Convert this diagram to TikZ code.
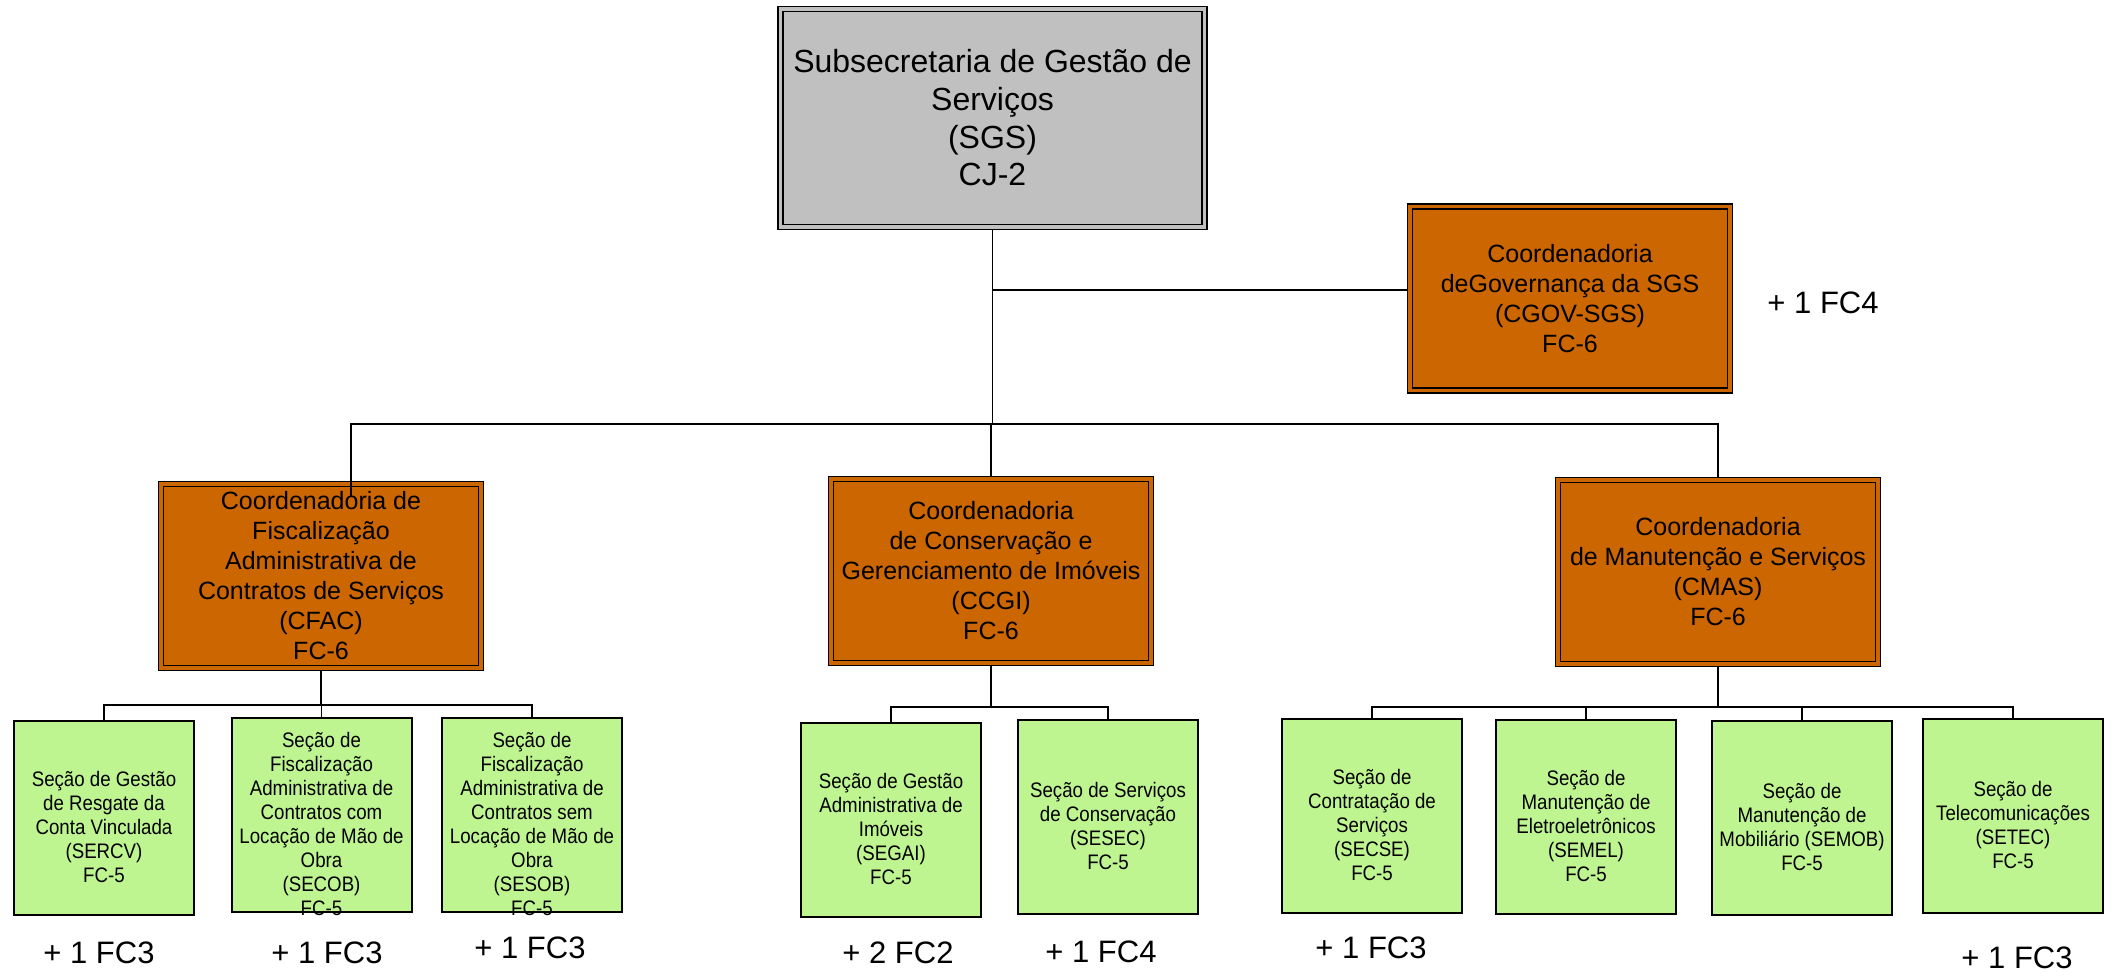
\documentclass[tikz,border=0pt]{standalone}
\usepackage{fontspec}
\setmainfont{Liberation Sans}
\newfontfamily\narrowsans[FakeStretch=0.89]{Liberation Sans}
\definecolor{boxorange}{HTML}{CC6600}
\definecolor{boxgray}{HTML}{C0C0C0}
\definecolor{boxgreen}{HTML}{BFF591}
\begin{document}
\begin{tikzpicture}[x=0.5pt,y=-0.5pt,
  topbox/.style={draw=black, line width=0.75pt, double=boxgray, double distance=1.75pt, fill=boxgray,
    minimum width=212pt, minimum height=109pt, inner sep=0pt, outer sep=1.6pt, align=center,
    font=\fontsize{16}{18.85}\selectfont},
  coordbox/.style={draw=black, line width=0.75pt, double=boxorange, double distance=1.75pt, fill=boxorange,
    minimum width=160pt, minimum height=92pt, inner sep=0pt, outer sep=1.6pt, align=center,
    font=\fontsize{12.5}{15}\selectfont},
  secbox/.style={draw=black, line width=1pt, fill=boxgreen, minimum width=90pt, minimum height=97pt,
    inner sep=0pt, outer sep=0.5pt},
  sectext/.style={align=center, inner sep=0pt, font=\narrowsans\fontsize{10.5}{12}\selectfont},
  extra/.style={inner sep=0pt, font=\fontsize{15.5}{18}\selectfont},
  conn/.style={line width=0.75pt},
  conn2/.style={line width=1pt}
]
\useasboundingbox (0,0) rectangle (2112,975);

% top
\node[topbox] (sgs) at (992.5,118) {Subsecretaria de Gestão de\\Serviços\\(SGS)\\CJ-2};
\node[coordbox] (cgov) at (1570,298.5) {Coordenadoria\\deGovernança da SGS\\(CGOV-SGS)\\FC-6};
\node[extra] (cgovx) at (1823,303) {+ 1 FC4};

% coordinators
\node[coordbox] (cfac) at (321,576) {Coordenadoria de\\Fiscalização\\Administrativa de\\Contratos de Serviços\\(CFAC)\\FC-6};
\node[coordbox] (ccgi) at (991,571) {Coordenadoria\\de Conservação e\\Gerenciamento de Imóveis\\(CCGI)\\FC-6};
\node[coordbox] (cmas) at (1718,572) {Coordenadoria\\de Manutenção e Serviços\\(CMAS)\\FC-6};

% sections
\node[secbox] (sercv) at (104,818) {};
\node[secbox] (secob) at (321.5,815) {};
\node[secbox] (sesob) at (532,815) {};
\node[secbox] (segai) at (891,820) {};
\node[secbox] (sesec) at (1108,817) {};
\node[secbox] (secse) at (1372,816) {};
\node[secbox] (semel) at (1586,817) {};
\node[secbox] (semob) at (1802,818) {};
\node[secbox] (setec) at (2013,816) {};

\node[sectext] (sercv-t) at ([yshift=-4.25pt]sercv.center) {Seção de Gestão\\de Resgate da\\Conta Vinculada\\(SERCV)\\FC-5};
\node[sectext] (secob-t) at ([yshift=-4.5pt]secob.center) {Seção de\\Fiscalização\\Administrativa de\\Contratos com\\Locação de Mão de\\Obra\\(SECOB)\\FC-5};
\node[sectext] (sesob-t) at ([yshift=-4.5pt]sesob.center) {Seção de\\Fiscalização\\Administrativa de\\Contratos sem\\Locação de Mão de\\Obra\\(SESOB)\\FC-5};
\node[sectext] (segai-t) at ([yshift=-4.25pt]segai.center) {Seção de Gestão\\Administrativa de\\Imóveis\\(SEGAI)\\FC-5};
\node[sectext] (sesec-t) at ([yshift=-4.5pt]sesec.center) {Seção de Serviços\\de Conservação\\(SESEC)\\FC-5};
\node[sectext] (secse-t) at ([yshift=-4.5pt]secse.center) {Seção de\\Contratação de\\Serviços\\(SECSE)\\FC-5};
\node[sectext] (semel-t) at ([yshift=-4.5pt]semel.center) {Seção de\\Manutenção de\\Eletroeletrônicos\\(SEMEL)\\FC-5};
\node[sectext] (semob-t) at ([yshift=-4.25pt]semob.center) {Seção de\\Manutenção de\\Mobiliário (SEMOB)\\FC-5};
\node[sectext] (setec-t) at ([yshift=-4.5pt]setec.center) {Seção de\\Telecomunicações\\(SETEC)\\FC-5};

% extra labels
\node[extra] (x1) at (99,953) {+ 1 FC3};
\node[extra] (x2) at (327,953) {+ 1 FC3};
\node[extra] (x3) at (530,948) {+ 1 FC3};
\node[extra] (x4) at (898,953) {+ 2 FC2};
\node[extra] (x5) at (1101,952) {+ 1 FC4};
\node[extra] (x6) at (1371,948) {+ 1 FC3};
\node[extra] (x7) at (2017,958) {+ 1 FC3};

% connectors level 1
\coordinate (gj) at (992.5,290);
\coordinate (busL) at (351,424);
\coordinate (busR) at (1718,424);
\coordinate (cfacin) at (351,497);
\draw[conn] (sgs.south) -- (sgs.south |- busL);
\draw[conn] (gj) -- (gj -| cgov.west);
\draw[conn] (cfacin) -- (busL) -- (busR) -- (cmas.north);
\draw[conn] (ccgi.north |- busL) -- (ccgi.north);

% connectors level 2
\coordinate (b1) at (321,705);
\coordinate (b2) at (991,707);
\coordinate (b3) at (1718,707);
\draw[conn2] (cfac.south) -- (b1);
\draw[conn] (sercv.north) -- (sercv.north |- b1) -- (sesob.north |- b1) -- (sesob.north);
\draw[conn] (secob.north |- b1) -- (secob.north);
\draw[conn2] (ccgi.south) -- (b2);
\draw[conn] (segai.north) -- (segai.north |- b2) -- (sesec.north |- b2) -- (sesec.north);
\draw[conn2] (cmas.south) -- (b3);
\draw[conn] (secse.north) -- (secse.north |- b3) -- (setec.north |- b3) -- (setec.north);
\draw[conn] (semel.north |- b3) -- (semel.north);
\draw[conn] (semob.north |- b3) -- (semob.north);
\end{tikzpicture}
\end{document}
